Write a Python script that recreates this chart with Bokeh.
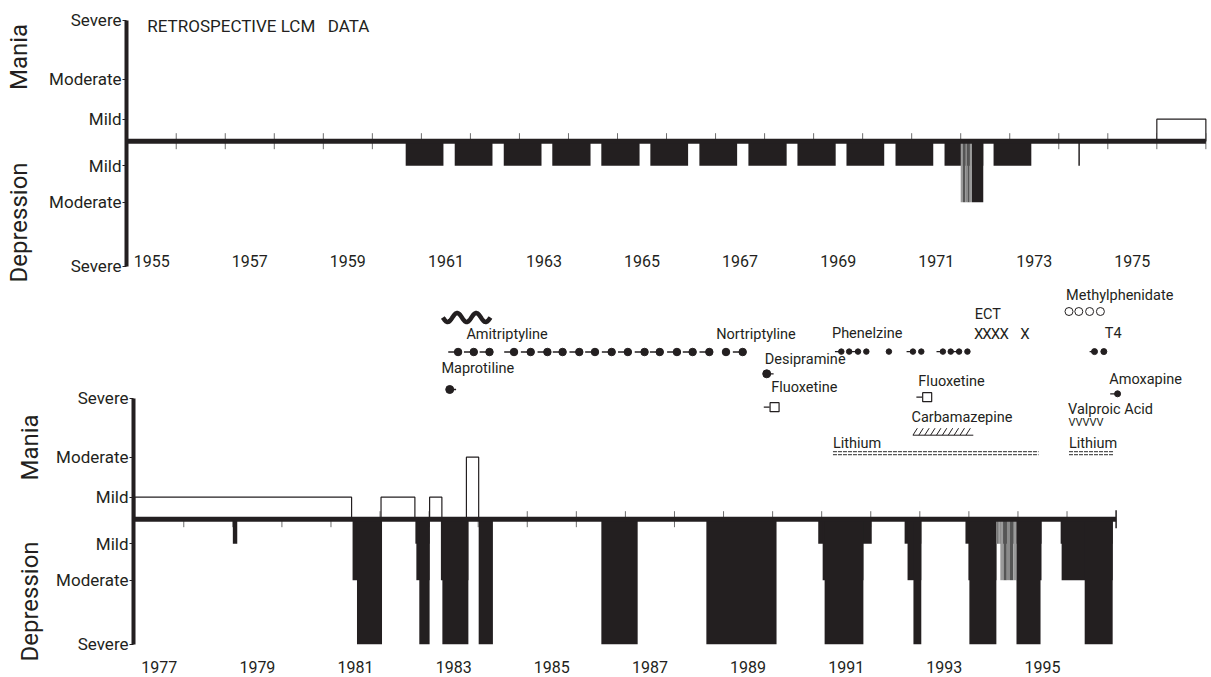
import numpy as np
from bokeh.plotting import figure
from bokeh.models import Range1d, FixedTicker, Label
from bokeh.layouts import column, row
from bokeh.core.properties import value
from bokeh.embed import file_html
from bokeh.resources import INLINE

# ---------------------------------------------------------------- data
severity_ticks_labels = ["Severe", "Moderate", "Mild", "Mild", "Moderate", "Severe"]
severity_order = ["dep_severe", "dep_moderate", "dep_mild", "man_mild", "man_moderate", "man_severe"]

top_year_labels = [1955, 1957, 1959, 1961, 1963, 1965, 1967, 1969, 1971, 1973, 1975]
bottom_year_labels = [1977, 1979, 1981, 1983, 1985, 1987, 1989, 1991, 1993, 1995]

# top panel 1955-1977 : depression episodes
top_dep_start = [1960.68, 1961.68, 1962.68, 1963.67, 1964.67, 1965.67, 1966.67,
                 1967.67, 1968.67, 1969.67, 1970.67, 1971.67, 1972.67, 1972.23, 1974.40]
top_dep_end = [1961.45, 1962.45, 1963.45, 1964.45, 1965.45, 1966.44, 1967.44,
               1968.45, 1969.45, 1970.44, 1971.44, 1972.46, 1973.44, 1972.46, 1974.43]
top_dep_level = ["mild", "mild", "mild", "mild", "mild", "mild", "mild",
                 "mild", "mild", "mild", "mild", "mild", "mild", "moderate", "mild"]
top_mixed_start = [1972.00]
top_mixed_end = [1972.23]
top_mixed_level = ["moderate"]
top_mania_start = [1976.00]
top_mania_end = [1977.00]
top_mania_level = ["mild"]

# bottom panel 1977-1997
bot_mania_start = [1977.00, 1982.02, 1983.01, 1983.76]
bot_mania_end = [1981.42, 1982.71, 1983.26, 1984.01]
bot_mania_level = ["mild", "mild", "mild", "moderate"]

bot_dep_start = [1979.00, 1981.44, 1981.53, 1982.72, 1982.74, 1982.80, 1983.24, 1983.27,
                 1984.01, 1986.51, 1988.65, 1990.93, 1991.02, 1991.06, 1992.69, 1992.75,
                 1992.87, 1993.93, 1993.99, 1994.01, 1994.64, 1994.97, 1994.97, 1995.87,
                 1995.89, 1996.36]
bot_dep_end = [1979.09, 1982.04, 1982.04, 1983.01, 1983.01, 1983.01, 1983.80, 1983.80,
               1984.30, 1987.25, 1990.08, 1992.02, 1991.85, 1991.85, 1993.03, 1993.03,
               1993.03, 1994.56, 1994.56, 1994.56, 1995.48, 1995.48, 1995.46, 1996.93,
               1996.93, 1996.93]
bot_dep_level = ["mild", "moderate", "severe", "mild", "moderate", "severe", "moderate", "severe",
                 "severe", "severe", "severe", "mild", "moderate", "severe", "mild", "moderate",
                 "severe", "mild", "moderate", "severe", "mild", "moderate", "severe", "mild",
                 "moderate", "severe"]
bot_mixed_start = [1994.56, 1994.64]
bot_mixed_end = [1994.64, 1994.97]
bot_mixed_level = ["mild", "moderate"]

# medications (years)
amitriptyline_dots = [1983.59, 1983.91, 1984.23, 1984.73, 1985.07, 1985.41, 1985.72, 1986.06,
                      1986.38, 1986.72, 1987.05, 1987.39, 1987.70, 1988.05, 1988.37, 1988.71]
amitriptyline_dash = [1, 1, 1, 1, 1, 1, 1, 1, 1, 1, 1, 1, 1, 1, 1, 1]
nortriptyline_dots = [1989.05, 1989.39]
nortriptyline_dash = [0, 1]
phenelzine_dots = [1991.40, 1991.56, 1991.74, 1991.91, 1992.37, 1992.86, 1993.03,
                   1993.47, 1993.63, 1993.80, 1993.97]
phenelzine_dash = [1, 0, 1, 0, 0, 1, 0, 1, 0, 1, 0]
t4_dots = [1996.56, 1996.75]
t4_dash = [1, 0]
amoxapine_dots = [1997.03]
amoxapine_dash = [1]
maprotiline_dots = [1983.42]
desipramine_dots = [1989.88]
fluoxetine_squares = [1990.04, 1993.15]
ect_years = [1994.20, 1994.37, 1994.54, 1994.72, 1995.14]
methylphenidate_years = [1996.04, 1996.24, 1996.46, 1996.68]
carbamazepine_span = [1992.86, 1994.09]
lithium_start = [1991.23, 1996.04]
lithium_end = [1995.42, 1996.95]
valproic_start = [1996.03]
psychotherapy_span = [1983.28, 1984.25]

med_names = ["Amitriptyline", "Nortriptyline", "Maprotiline", "Desipramine", "Fluoxetine",
             "Phenelzine", "ECT", "Fluoxetine", "Carbamazepine", "Lithium",
             "Methylphenidate", "T4", "Amoxapine", "Valproic Acid", "Lithium"]
med_label_year = [1983.76, 1988.85, 1983.25, 1989.84, 1989.97,
                  1991.21, 1994.12, 1992.97, 1992.83, 1991.23,
                  1995.98, 1996.77, 1996.86, 1996.02, 1996.04]

# ---------------------------------------------------------------- layout / style
INK = "#231f20"
FONT = "Roboto"
W, H = 1211, 677
LAB_W = 46
PX_PER_YEAR_TOP = 49.03
PX_PER_YEAR_BOT = 49.07
MAN_Y = {"mild": 22, "moderate": 62, "severe": 121}
DEP_Y = {"mild": -24.5, "moderate": -61, "severe": -125}
TICK_Y = {"dep_severe": -125, "dep_moderate": -61, "dep_mild": -24.5,
          "man_mild": 22, "man_moderate": 62, "man_severe": 121}

med_label_row = [184.7, 184.7, 150.4, 159.7, 131.4,
                 185.4, 204.4, 137.7, 102, 76,
                 223.7, 185.4, 139.7, 109.7, 76]


def base_fig(height, x0, ppy, frame_left, y_range):
    width = W - LAB_W
    border = frame_left - LAB_W
    frame_w = W - frame_left
    p = figure(width=width, height=height,
               x_range=Range1d(x0, x0 + frame_w / ppy),
               y_range=y_range,
               x_axis_location=None,
               output_backend="svg", toolbar_location=None,
               min_border_left=border, min_border_right=0,
               min_border_top=0, min_border_bottom=0)
    p.xgrid.visible = False
    p.ygrid.visible = False
    p.outline_line_color = None
    ax = p.yaxis[0]
    ax.ticker = FixedTicker(ticks=[TICK_Y[k] for k in severity_order])
    ax.major_label_overrides = {TICK_Y[k]: lab for k, lab in zip(severity_order, severity_ticks_labels)}
    ax.bounds = (TICK_Y["dep_severe"], TICK_Y["man_severe"])
    ax.axis_line_width = 4
    ax.axis_line_color = INK
    ax.major_tick_in = 0
    ax.major_tick_out = 4
    ax.major_tick_line_color = INK
    ax.minor_tick_line_color = None
    ax.major_label_standoff = 1
    ax.major_label_text_font = FONT
    ax.major_label_text_font_size = "17px"
    ax.major_label_text_color = INK
    return p


def label_fig(height, y_range, x, mania_y, dep_y):
    q = figure(width=LAB_W, height=height, x_range=Range1d(0, LAB_W), y_range=y_range,
               x_axis_location=None, y_axis_location=None,
               output_backend="svg", toolbar_location=None,
               min_border_left=0, min_border_right=0, min_border_top=0, min_border_bottom=0)
    q.xgrid.visible = False
    q.ygrid.visible = False
    q.outline_line_color = None
    q.text(x=[x, x], y=[mania_y, dep_y], text=["Mania", "Depression"], angle=np.pi / 2,
           text_font=value(FONT), text_font_size="24px", text_color=INK,
           text_align="center", text_baseline="middle")
    return q


def draw_panel(p, year_ticks, end_year, dep, mixed, mania, year_labels, label_y):
    p.segment(x0=year_ticks, x1=year_ticks, y0=[-8] * len(year_ticks), y1=[8] * len(year_ticks),
              line_color="#6d6d6d", line_width=1)
    ms, me, ml = mania
    p.quad(left=ms, right=me, bottom=[0] * len(ms), top=[MAN_Y[l] for l in ml],
           fill_color="white", line_color=INK, line_width=1.2)
    ds, de, dl = dep
    p.quad(left=ds, right=de, top=[0] * len(ds), bottom=[DEP_Y[l] for l in dl],
           fill_color=INK, line_color=None)
    xs, xe, xl = mixed
    for s, e, l in zip(xs, xe, xl):
        edges = np.linspace(s, e, 6)
        cols = ["#9a9a9a", "#555555", "#8a8a8a", "#555555", "#9a9a9a"]
        p.quad(left=edges[:-1], right=edges[1:], top=[0] * 5, bottom=[DEP_Y[l]] * 5,
               fill_color=cols, line_color=None)
    x_start = p.x_range.start
    p.segment(x0=[x_start], x1=[end_year], y0=[0], y1=[0], line_color=INK, line_width=5)
    p.text(x=[y + 0.5 for y in year_labels], y=[label_y] * len(year_labels),
           text=[str(y) for y in year_labels], text_font=value(FONT), text_font_size="16px",
           text_color=INK, text_align="center", text_baseline="middle")


# ---------------- top panel (page y 0..284, baseline at 140.7)
TOP_H = 284
top_yr = Range1d(-(TOP_H - 140.7), 140.7)
top = base_fig(TOP_H, 1955 + (126 - 126.7) / PX_PER_YEAR_TOP, PX_PER_YEAR_TOP, 126, top_yr)
draw_panel(top, list(np.arange(1956, 1978)), 1977.0,
           (top_dep_start, top_dep_end, top_dep_level),
           (top_mixed_start, top_mixed_end, top_mixed_level),
           (top_mania_start, top_mania_end, top_mania_level),
           top_year_labels, -119.8)
top.add_layout(Label(x=1955.41, y=115.7, text="RETROSPECTIVE LCM\u00a0\u00a0\u00a0DATA",
                     text_baseline="middle", text_font=FONT, text_font_size="17px",
                     text_color=INK))
top_lab = label_fig(TOP_H, top_yr, 18.5, 84.2, -81.3)

# ---------------- bottom panel (page y 284..677, baseline at 518.7)
BOT_H = H - TOP_H
bot_yr = Range1d(-(H - 518.7), 518.7 - TOP_H)
bot = base_fig(BOT_H, 1977 + (133 - 134.2) / PX_PER_YEAR_BOT, PX_PER_YEAR_BOT, 133, bot_yr)
draw_panel(bot, list(np.arange(1978, 1997)), 1997.0,
           (bot_dep_start, bot_dep_end, bot_dep_level),
           (bot_mixed_start, bot_mixed_end, bot_mixed_level),
           (bot_mania_start, bot_mania_end, bot_mania_level),
           bottom_year_labels, -148)
bot.segment(x0=[1997.0], x1=[1997.0], y0=[-9], y1=[9], line_color=INK, line_width=1.5)
bot_lab = label_fig(BOT_H, bot_yr, 29, 71.7, -82.3)

# medication labels
bot.text(x=med_label_year, y=med_label_row, text=med_names, text_font=value(FONT),
         text_font_size="14.5px", text_color=INK, text_align="left", text_baseline="middle")


def dots_with_dashes(p, dots, flags, y, dash_len, size, before=True):
    xs0, xs1 = [], []
    for d, f in zip(dots, flags):
        if f:
            if before:
                xs0.append(d - dash_len); xs1.append(d)
            else:
                xs0.append(d); xs1.append(d + dash_len)
    if xs0:
        p.segment(x0=xs0, x1=xs1, y0=[y] * len(xs0), y1=[y] * len(xs0),
                  line_color=INK, line_width=1.3)
    p.scatter(x=dots, y=[y] * len(dots), marker="circle", size=size,
              fill_color=INK, line_color=INK)


dots_with_dashes(bot, amitriptyline_dots, amitriptyline_dash, 167.2, 0.2, 7.5)
dots_with_dashes(bot, nortriptyline_dots, nortriptyline_dash, 167.2, 0.2, 7.5)
dots_with_dashes(bot, phenelzine_dots, phenelzine_dash, 167.6, 0.13, 5.5)
dots_with_dashes(bot, t4_dots, t4_dash, 167.6, 0.1, 6)
dots_with_dashes(bot, amoxapine_dots, amoxapine_dash, 125.4, 0.15, 6)
dots_with_dashes(bot, maprotiline_dots, [1], 129.7, 0.13, 8, before=False)
dots_with_dashes(bot, desipramine_dots, [1], 145.4, 0.14, 8, before=False)

fl_y = [112, 122]
bot.segment(x0=[f - 0.22 for f in fluoxetine_squares], x1=[f - 0.1 for f in fluoxetine_squares],
            y0=fl_y, y1=fl_y, line_color=INK, line_width=1.2)
bot.scatter(x=fluoxetine_squares, y=fl_y, marker="square", size=9,
            fill_color="white", line_color=INK, line_width=1.2)

bot.text(x=ect_years, y=[185.4] * len(ect_years), text=["X"] * len(ect_years),
         text_font=value(FONT), text_font_size="15px", text_color=INK,
         text_align="center", text_baseline="middle")

bot.scatter(x=methylphenidate_years, y=[207.7] * len(methylphenidate_years), marker="circle",
            size=8, fill_color="white", line_color=INK, line_width=1)

bot.text(x=valproic_start, y=[97], text=["VVVVV"], text_font=value(FONT),
         text_font_size="11px", text_color=INK, text_align="left", text_baseline="middle")

cs, ce = carbamazepine_span
hx = np.arange(cs, ce - 0.05, 0.12)
bot.segment(x0=hx, x1=hx + 0.09, y0=[84] * len(hx), y1=[91] * len(hx),
            line_color=INK, line_width=1)
bot.segment(x0=[cs], x1=[ce], y0=[84], y1=[84], line_color=INK, line_width=1)

for yy in (64.5, 67.5):
    bot.segment(x0=lithium_start, x1=lithium_end, y0=[yy] * 2, y1=[yy] * 2,
                line_color="#555555", line_width=1.3, line_dash="4 1")

ws, we = psychotherapy_span
t = np.linspace(0, 1, 80)
bot.line(x=ws + t * (we - ws), y=201.7 + 4.5 * np.sin(2 * np.pi * 2.5 * t + np.pi),
         line_color=INK, line_width=4.5)

layout = column(row(top_lab, top), row(bot_lab, bot))
open("out.html", "w").write(file_html(layout, INLINE))
